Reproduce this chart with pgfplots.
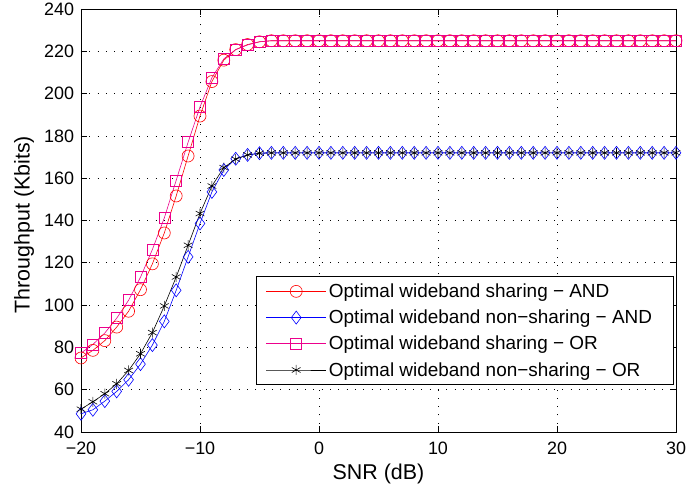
\documentclass[border=0pt]{standalone}
\usepackage{fontspec}
\setmainfont{Liberation Sans}
\usepackage{pgfplots}
\pgfplotsset{compat=1.18}
\begin{document}
\begin{tikzpicture}
\begin{axis}[
  scale only axis,
  width=595bp, height=423bp,
  xmin=-20, xmax=30, ymin=40, ymax=240,
  xtick={-20,-10,0,10,20,30},
  xticklabels={−20,−10,0,10,20,30},
  ytick={40,60,...,240},
  /pgf/number format/assume math mode=true,
  tick label style={font=\fontsize{18}{21}\selectfont},
  xticklabel style={yshift=-6bp},
  yticklabel style={xshift=-3.5bp},
  grid=major,
  major grid style={black, line width=0.7pt, dash pattern=on 0.9bp off 7.4bp},
  tick align=inside,
  major tick length=6bp,
  tick style={black, line width=0.6pt},
  axis line style={black, line width=0.9pt},
  xlabel={SNR (dB)},
  ylabel={Throughput (Kbits)},
  label style={font=\fontsize{21.5}{25}\selectfont},
  xlabel style={at={(axis description cs:0.5,-0.0985)}, anchor=center},
  ylabel style={at={(axis description cs:-0.0958,0.49)}, anchor=center},
  legend cell align=left,
  legend style={at={(0.9966,0.111)}, anchor=south east, draw=black, line width=0.9pt,
    font=\fontsize{19}{22}\selectfont, row sep=6bp, inner xsep=9bp, inner ysep=4.5bp,
    nodes={inner sep=2.5bp}},
  legend image code/.code={\draw[mark repeat=2,mark phase=2,#1,line width=0.6pt] plot coordinates {(0bp,0bp) (30bp,0bp) (60bp,0bp)};},
  every axis plot/.append style={line width=0.6pt},
]
\addplot[color=red, mark=o, mark size=6bp, mark options={solid}] coordinates {
(-20,75) (-19,78.6) (-18,83.2) (-17,89.6) (-16,97.1) (-15,107.3) (-14,119.5) (-13,134.1)
(-12,151.6) (-11,170.5) (-10,189.4) (-9,205.7) (-8,215.8) (-7,220.8) (-6,223.2) (-5,224.5)
(-4,225) (-3,225) (-2,225) (-1,225) (0,225) (1,225) (2,225) (3,225) (4,225) (5,225)
(6,225) (7,225) (8,225) (9,225) (10,225) (11,225) (12,225) (13,225) (14,225) (15,225)
(16,225) (17,225) (18,225) (19,225) (20,225) (21,225) (22,225) (23,225) (24,225) (25,225)
(26,225) (27,225) (28,225) (29,225) (30,225)};
\addlegendentry{Optimal wideband sharing − AND}
\addplot[color=blue, mark=diamond, mark size=6.5bp, mark options={solid}] coordinates {
(-20,48.6) (-19,50.5) (-18,54.6) (-17,59.2) (-16,64.7) (-15,72.1) (-14,81.1) (-13,92.3)
(-12,107) (-11,122.8) (-10,138.6) (-9,153.5) (-8,163.9) (-7,169.2) (-6,171) (-5,171.8)
(-4,172) (-3,172) (-2,172) (-1,172) (0,172) (1,172) (2,172) (3,172) (4,172) (5,172)
(6,172) (7,172) (8,172) (9,172) (10,172) (11,172) (12,172) (13,172) (14,172) (15,172)
(16,172) (17,172) (18,172) (19,172) (20,172) (21,172) (22,172) (23,172) (24,172) (25,172)
(26,172) (27,172) (28,172) (29,172) (30,172)};
\addlegendentry{Optimal wideband non−sharing − AND\hspace*{10bp}}
\addplot[color=magenta, mark=square, mark size=5.5bp, mark options={solid}] coordinates {
(-20,77.3) (-19,81.4) (-18,86.8) (-17,93.8) (-16,102.3) (-15,113.2) (-14,126.3) (-13,141.2)
(-12,159) (-11,177) (-10,193.7) (-9,207.5) (-8,216.4) (-7,220.8) (-6,223) (-5,224.5)
(-4,225) (-3,225) (-2,225) (-1,225) (0,225) (1,225) (2,225) (3,225) (4,225) (5,225)
(6,225) (7,225) (8,225) (9,225) (10,225) (11,225) (12,225) (13,225) (14,225) (15,225)
(16,225) (17,225) (18,225) (19,225) (20,225) (21,225) (22,225) (23,225) (24,225) (25,225)
(26,225) (27,225) (28,225) (29,225) (30,225)};
\addlegendentry{Optimal wideband sharing − OR}
\addplot[color=black, mark=asterisk, mark size=5bp, mark options={solid}] coordinates {
(-20,50.8) (-19,54.3) (-18,58.1) (-17,62.8) (-16,69.1) (-15,77) (-14,87) (-13,99.6)
(-12,113.3) (-11,128.3) (-10,143.3) (-9,156.3) (-8,165) (-7,169) (-6,171) (-5,171.8)
(-4,172) (-3,172) (-2,172) (-1,172) (0,172) (1,172) (2,172) (3,172) (4,172) (5,172)
(6,172) (7,172) (8,172) (9,172) (10,172) (11,172) (12,172) (13,172) (14,172) (15,172)
(16,172) (17,172) (18,172) (19,172) (20,172) (21,172) (22,172) (23,172) (24,172) (25,172)
(26,172) (27,172) (28,172) (29,172) (30,172)};
\addlegendentry{Optimal wideband non−sharing − OR}
\end{axis}
\pgfresetboundingbox
\path[use as bounding box] ([xshift=-81bp,yshift=-59bp]current axis.south west) rectangle ([xshift=12bp,yshift=9bp]current axis.north east);
\end{tikzpicture}
\end{document}
